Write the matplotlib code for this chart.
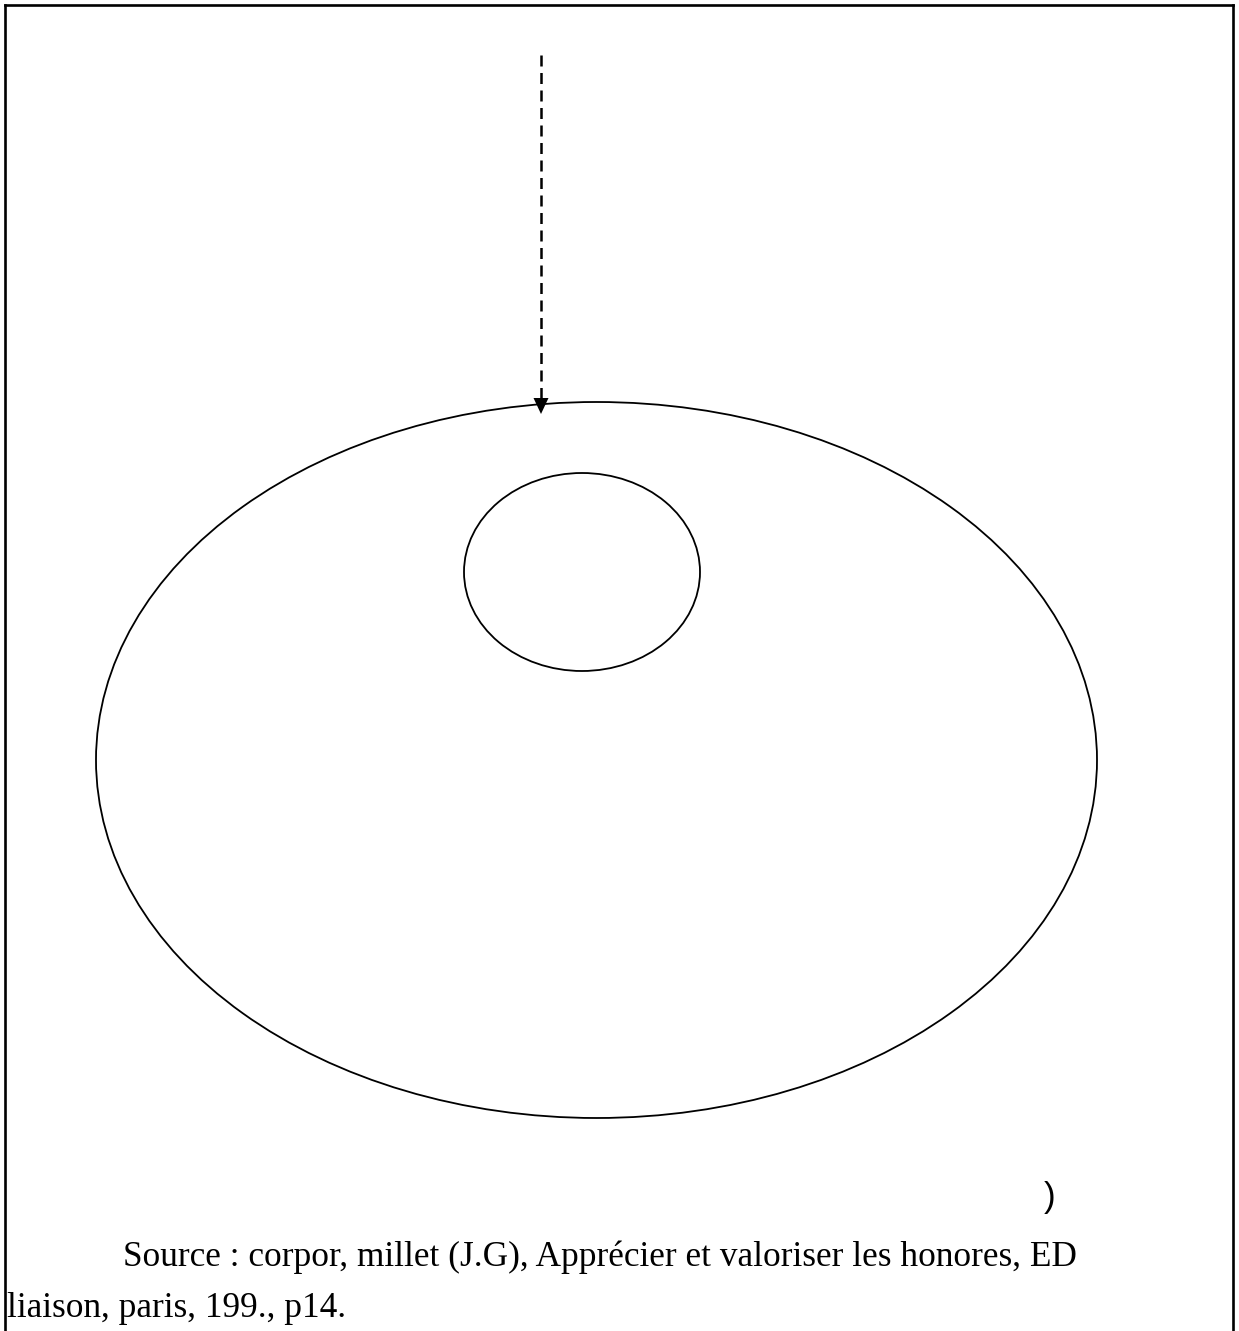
import numpy as np
import matplotlib.pyplot as plt
from matplotlib.patches import Ellipse

# figure is laid out in pixel coordinates of the original picture
W, H = 1239, 1331

# ellipses: centre x, centre y, width, height
ell_x = [596.5, 582]
ell_y = [760, 572]
ell_w = [1001, 236]
ell_h = [716, 198]

# dashed arrow from top down to the big ellipse
arrow_x = 541
arrow_y = [55, 414]

source_lines = ["Source : corpor, millet (J.G), Apprécier et valoriser les honores, ED",
                "liaison, paris, 199., p14."]

fig = plt.figure(figsize=(W / 100, H / 100), dpi=100)
ax = fig.add_axes([0, 0, 1, 1])
ax.set_xlim(0, W)
ax.set_ylim(H, 0)
ax.axis('off')

# frame: left, top and right sides only (bottom is cut off)
ax.plot([5, 5], [H, 5], color='black', lw=1.9, solid_capstyle='projecting')
ax.plot([5, 1233], [5, 5], color='black', lw=1.9, solid_capstyle='projecting')
ax.plot([1233, 1233], [5, H], color='black', lw=1.9, solid_capstyle='projecting')

for x, y, w, h in zip(ell_x, ell_y, ell_w, ell_h):
    ax.add_patch(Ellipse((x, y), w, h, fill=False, edgecolor='black', lw=1.3))

# dashed line + filled arrow head
ax.plot([arrow_x, arrow_x], [arrow_y[0], arrow_y[1] - 14], color='black',
        lw=1.8, dashes=(4.4, 2.6))
ax.fill([arrow_x - 7.5, arrow_x + 7.5, arrow_x],
        [arrow_y[1] - 16, arrow_y[1] - 16, arrow_y[1]], color='black', lw=0)

ax.text(1044, 1197, ")", fontsize=25, family='Liberation Sans', va='center', ha='left')

ax.text(123, 1266, source_lines[0], fontsize=25.4, family='Liberation Serif', va='baseline')
ax.text(7, 1317, source_lines[1], fontsize=25.4, family='Liberation Serif', va='baseline')

fig.savefig('out.png', dpi=100)
